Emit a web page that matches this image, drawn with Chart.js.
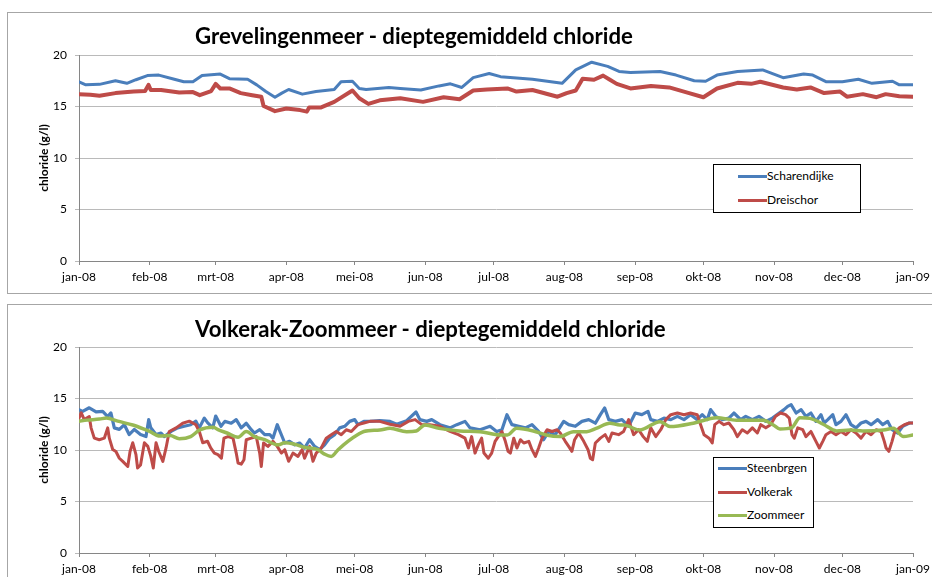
<!DOCTYPE html>
<html><head><meta charset="utf-8">
<script src="https://cdn.jsdelivr.net/npm/chart.js@4.4.1/dist/chart.umd.min.js"></script>
<style>
html,body{margin:0;padding:0;background:#fff;width:932px;height:577px;overflow:hidden;font-family:Lato,sans-serif;}
.panel{position:absolute;left:7px;width:940px;height:280px;border:1px solid #a6a6a6;background:#fff;}
#p1{top:12px;}
#p2{top:304px;}
canvas{position:absolute;left:0;top:0;}
.title{position:absolute;left:187px;font:bold 22.2px Lato,sans-serif;line-height:26px;white-space:nowrap;color:#000;}
.legend{position:absolute;border:1px solid #000;background:#fff;box-sizing:border-box;}
.sw{position:absolute;height:3px;}
.lt{position:absolute;font:12px Lato,sans-serif;line-height:16px;white-space:nowrap;color:#000;}
</style></head>
<body>
<div class="panel" id="p1"><canvas id="c1" width="922" height="280" style="width:922px;height:280px"></canvas>
<div class="title" style="top:10px">Grevelingenmeer - dieptegemiddeld chloride</div>
<div class="legend" id="lg1" style="left:705px;top:151px;width:148px;height:49px"></div></div>
<div class="panel" id="p2"><canvas id="c2" width="922" height="280" style="width:922px;height:280px"></canvas>
<div class="title" style="top:11px">Volkerak-Zoommeer - dieptegemiddeld chloride</div>
<div class="legend" id="lg2" style="left:705px;top:152px;width:101px;height:71px"></div></div>
<script>
// ---- axis data ----
const monthDays = [0,31,60,91,121,152,182,213,244,274,305,335,366];
const monthLabels = ['jan-08','feb-08','mrt-08','apr-08','mei-08','jun-08','jul-08','aug-08','sep-08','okt-08','nov-08','dec-08','jan-09'];
const yTitle = 'chloride (g/l)';

// ---- Grevelingenmeer (day of 2008, g/l) ----
const scharDays = [0,3,9,16,21,25,30,35,41,46,50,54,62,66,74,78,82,86,89,92,98,104,112,115,120,123,126,136,141,150,158,163,168,173,180,185,199,212,218,225,232,237,242,255,262,270,275,280,289,300,309,318,322,328,335,342,348,357,360,366];
const scharVals = [17.4,17.1,17.15,17.5,17.25,17.6,18.0,18.05,17.7,17.4,17.4,18.0,18.15,17.7,17.65,17.1,16.45,15.9,16.3,16.65,16.2,16.45,16.65,17.4,17.45,16.75,16.65,16.85,16.75,16.6,17.0,17.2,16.85,17.8,18.2,17.9,17.65,17.25,18.55,19.3,18.9,18.4,18.3,18.4,18.05,17.5,17.45,18.05,18.4,18.55,17.8,18.15,18.05,17.4,17.4,17.65,17.25,17.45,17.1,17.1];
const dreiDays = [0,5,9,16,24,29,30.5,31.5,36,44,50,53,58,60,62,66,71,76,80,81,86,91,97,100,101,106,112,120,123,127,132,141,151,160,167,173,179,188,192,199,210,214,218,221,226,230,233,236,242,251,259,267,274,280,289,295,299,309,315,321,327,334,337,344,350,354,360,366];
const dreiVals = [16.2,16.15,16.05,16.3,16.45,16.5,17.1,16.6,16.6,16.35,16.4,16.1,16.5,17.2,16.75,16.75,16.3,16.1,15.95,15.05,14.55,14.8,14.65,14.5,14.9,14.9,15.45,16.55,15.8,15.25,15.6,15.8,15.45,15.9,15.7,16.55,16.65,16.75,16.45,16.6,15.95,16.3,16.55,17.7,17.6,18.0,17.6,17.2,16.75,17.0,16.85,16.35,15.9,16.75,17.3,17.2,17.4,16.85,16.65,16.85,16.3,16.45,15.95,16.2,15.9,16.2,16.0,15.95];

// ---- Volkerak-Zoommeer ----
const steenDays = [0,1.6,4.5,7.5,10.4,12.6,14,15.5,17.7,19.9,22,24.3,27,29.4,30.6,31.5,33.8,36,37.5,40.4,43.3,46.2,49,51.3,52.8,55,56.4,58.7,60,62.3,64,66.8,69,71.2,73.4,75.6,77,79.3,81.5,83.7,85.1,87,88.5,90.3,92.4,94.7,96.8,99,101.2,103.4,105.6,107.8,110,112.2,114.4,116.6,118.8,121,122.4,125,127.7,132,136.5,139.4,143.8,147.9,149.6,152.6,154.8,158.4,162.8,165.8,169.4,171.6,176,180.4,183.3,185.6,187.8,190,193,195.9,198.8,201.7,203.9,206.1,209,212.7,214.9,217.8,220.7,223.7,226.6,228.8,230.7,232.5,235.4,238.3,241.2,244.1,247,249.7,250.9,253.8,256.7,259.7,262.6,265.5,268.4,271.3,273.5,275.7,277.2,279.4,282.3,285.2,287.4,290.4,292.6,295.5,298.4,301.4,304.3,306.4,309.4,311,312.5,314.7,316.9,319,321.2,323.4,325.6,327,328.6,330.8,332.2,334.4,336.6,338.8,341,343.2,345.4,347.6,350.5,352.7,354.9,356.8,359.3,361.5,364.4,366];
const steenVals = [13.9,13.75,14.1,13.7,13.75,13.25,13.6,12.15,12.0,12.45,11.5,12.0,11.5,11.3,12.95,12.15,11.5,11.65,11.3,11.8,12.15,12.3,12.45,12.8,12.15,13.1,12.65,12.15,13.3,12.3,12.78,12.6,12.95,12.15,12.6,11.97,11.65,11.97,11.49,11.5,11.15,12.46,11.65,10.68,10.84,10.5,10.68,10.19,11.0,10.35,10.03,10.5,11.15,11.49,12.15,12.3,12.78,12.95,12.46,12.78,12.78,12.85,12.78,12.5,12.85,13.69,12.95,12.78,12.95,12.46,12.15,12.46,12.78,12.15,11.97,12.3,11.8,11.97,13.43,12.46,12.3,12.15,12.46,11.8,11.0,11.8,11.49,12.78,12.46,12.3,12.78,12.95,12.6,13.43,14.08,12.95,12.78,12.95,12.3,13.59,13.43,13.75,12.95,12.78,13.1,12.95,13.27,12.95,13.43,12.95,13.43,12.95,13.92,13.27,12.95,13.1,13.59,12.95,13.27,12.95,13.27,12.78,13.1,13.43,13.92,14.24,14.4,13.59,13.92,13.27,13.59,12.78,13.43,12.62,12.95,13.43,12.46,12.78,13.43,12.46,12.15,12.62,12.78,12.46,12.95,12.46,12.78,11.97,11.65,12.3,12.62,12.62];
const volkDays = [0,1,2.3,4.5,5.3,6.7,8.9,11.1,12.6,13.3,14.8,16.2,17.7,19.2,21.4,22.4,23.6,25,25.7,27,28.7,30.2,31.5,32.6,33.8,35,36.8,38.2,39.6,42.6,45.5,48.4,51.3,52.8,54.3,56.4,57.8,59.4,61,62.5,63.6,65.4,67.6,69,69.8,71.2,72.4,73.4,75.6,77.8,79.3,80,81,82.9,85.1,87,88.8,90.3,92,93.9,96.1,97.9,99,101.2,102.7,104.1,106.3,108.5,110.7,112.9,115.1,117.3,119.5,122.4,125,127.7,132,136.5,140.9,144.5,147.5,150.4,154,158.4,162.8,166.5,169.4,170.9,172.3,173.8,175.2,176.7,177.7,179.6,181.1,182.6,184,185.6,187.1,188.3,189.3,190.8,192.2,193.7,195.2,197.4,198.8,200.3,201.7,203.2,205.4,207.6,209.8,211.2,213.4,214.9,216.3,217.5,219.3,221.5,223.4,224.4,225.4,226.6,228.8,230.9,232.5,233.9,236.8,239,241.2,243.4,245.6,247.6,249.4,250.9,253.1,255.3,257.5,259.7,262.6,265.5,268.4,271.3,272.8,274.3,276.5,277.9,279,280.9,283,285.2,287.4,288.9,291.1,293.3,295.5,297.7,299.2,301.4,303.5,305.7,307.9,310.1,311.7,312.9,313.9,315.4,317.6,319,321.2,323.4,324.9,326.4,327.8,330,332.2,334.4,336.6,338.8,341,343.2,345.4,347.6,349.8,352,353.4,354.2,355.4,356.8,357.8,360,362.2,364.4,366];
const volkVals = [13.1,13.6,12.95,13.25,12.15,11.15,11.0,11.15,12.15,11.15,10.05,9.85,9.2,8.9,8.4,9.85,10.7,9.55,8.25,8.55,10.7,10.35,9.4,8.25,10.7,9.85,8.9,10.2,11.8,12.15,12.6,12.8,12.45,11.8,10.7,10.85,10.2,9.7,9.55,9.2,11.15,11.3,11.15,9.7,8.74,8.63,9.05,11.0,11.15,11.3,9.7,8.4,10.68,10.35,10.84,10.35,9.7,10.03,8.9,9.7,9.38,10.03,9.2,10.35,8.9,9.7,10.19,11.15,11.49,11.8,11.49,11.97,11.8,12.46,12.62,12.78,12.78,12.5,12.3,12.78,12.95,12.46,12.46,12.3,11.8,11.49,11.15,10.19,11.3,9.7,10.5,11.15,9.7,9.2,9.7,10.84,11.3,11.8,10.84,9.87,9.7,11.15,10.19,11.0,10.68,10.84,10.03,9.38,10.19,11.15,11.97,11.8,11.97,11.65,10.84,10.35,9.87,11.0,11.65,10.84,10.03,9.2,9.05,10.68,11.15,11.49,10.84,11.65,11.49,11.8,12.95,11.49,11.97,11.3,10.84,12.15,11.3,11.97,12.95,13.43,13.59,13.43,13.59,13.43,12.46,11.49,11.15,10.68,12.46,12.78,12.46,12.62,11.97,11.3,11.97,11.65,12.15,11.65,12.46,12.15,12.46,13.27,13.59,13.43,13.1,11.49,11.15,12.15,11.97,11.3,11.8,10.84,10.19,10.84,11.49,11.8,11.49,11.8,11.49,11.97,11.65,11.15,11.8,11.49,11.97,11.8,10.84,10.19,9.87,10.84,11.65,12.15,12.46,12.62,12.62];
const zoomDays = [0,3.5,9,12,17,24,31,35.5,40,44,49,53,59,61,65,69.8,73.4,77,81.5,87.3,90.3,94.7,99,104.9,107.8,110.7,113.7,118,122.4,125,132,136.5,143.8,148,151.8,158,167,176,184.8,188,192,199.4,205,211,217,222.8,227,233,237.4,239,246,255,259.4,269.6,279.8,288.6,300.3,304.7,307.6,312.8,316.4,320.8,326.6,332.5,338.4,344,353,357.4,361.8,366];
const zoomVals = [12.8,12.9,13.0,13.1,12.8,12.4,11.8,11.35,11.4,11.1,11.3,11.95,12.2,11.97,11.65,11.23,11.8,11.3,11.0,10.5,10.7,10.55,10.26,10.03,9.6,9.38,10.03,10.84,11.5,11.8,11.94,12.1,11.78,11.85,12.43,12.1,11.85,11.78,11.46,11.46,12.1,11.85,11.46,11.3,11.78,11.78,12.1,12.6,12.43,12.43,11.94,12.75,12.27,12.6,13.14,12.9,12.9,12.43,12.04,12.17,13.14,13.07,12.5,11.85,11.94,11.85,11.94,12.1,11.3,11.46];

const BLUE = '#4a7ebb', RED = '#be4b48', GREEN = '#98b954';
Chart.defaults.font.family = 'Lato';

const pts = (d, v) => d.map((x, i) => ({x: x, y: v[i]}));
function ds(label, d, v, color, w, order, extra) {
  return Object.assign({label: label, data: pts(d, v), borderColor: color, backgroundColor: color,
    borderWidth: w, pointRadius: 0, tension: 0, fill: false, order: order,
    borderJoinStyle: 'round', borderCapStyle: 'round'}, extra || {});
}

function makeChart(id, datasets) {
  return new Chart(document.getElementById(id), {
    type: 'line',
    data: {datasets: datasets},
    options: {
      responsive: false, animation: false, events: [],
      layout: {padding: {left: 25, right: 17, top: 42, bottom: 0}},
      plugins: {legend: {display: false}, tooltip: {enabled: false}, title: {display: false}},
      scales: {
        x: {
          type: 'linear', min: 0, max: 366,
          afterBuildTicks: a => { a.ticks = monthDays.map(v => ({value: v})); },
          afterFit: s => { s.height = 32; s.paddingLeft = 0; s.paddingRight = 0; },
          ticks: {autoSkip: false, maxRotation: 0, padding: 5, color: '#000', font: {size: 12},
                  callback: (v, i) => monthLabels[i]},
          grid: {drawOnChartArea: false, drawTicks: true, tickLength: 4, color: '#868686'},
          border: {color: '#868686', width: 1}
        },
        y: {
          min: 0, max: 20,
          afterFit: s => { s.width = 46; s.paddingTop = 0; s.paddingBottom = 0; },
          ticks: {stepSize: 5, padding: 8, color: '#000', font: {size: 12}},
          grid: {color: '#bababa', tickLength: 4, lineWidth: 1},
          border: {color: '#868686', width: 1},
          title: {display: true, text: yTitle, color: '#000', font: {size: 12, weight: 'bold'}, padding: {top: 4, bottom: 4}}
        }
      }
    }
  });
}

makeChart('c1', [
  ds('Scharendijke', scharDays, scharVals, BLUE, 3, 2),
  ds('Dreischor', dreiDays, dreiVals, RED, 4, 1)
]);
makeChart('c2', [
  ds('Steenbrgen', steenDays, steenVals, BLUE, 3.2, 3),
  ds('Volkerak', volkDays, volkVals, RED, 3, 2),
  ds('Zoommeer', zoomDays, zoomVals, GREEN, 3.5, 1, {cubicInterpolationMode: 'monotone'})
]);

// HTML legends
function legend(id, items, swLeft, swW, textLeft, ys) {
  const el = document.getElementById(id);
  items.forEach((it, i) => {
    const sw = document.createElement('div');
    sw.className = 'sw';
    sw.style.cssText = 'left:' + swLeft + 'px;width:' + swW + 'px;top:' + (ys[i] - 1.5) + 'px;background:' + it[1];
    const t = document.createElement('div');
    t.className = 'lt';
    t.style.cssText = 'left:' + textLeft + 'px;top:' + (ys[i] - 8) + 'px';
    t.textContent = it[0];
    el.appendChild(sw); el.appendChild(t);
  });
}
legend('lg1', [['Scharendijke', BLUE], ['Dreischor', RED]], 24, 29, 53, [11, 35]);
legend('lg2', [['Steenbrgen', BLUE], ['Volkerak', RED], ['Zoommeer', GREEN]], 4, 29, 33, [10, 34, 57]);
</script>
</body></html>
